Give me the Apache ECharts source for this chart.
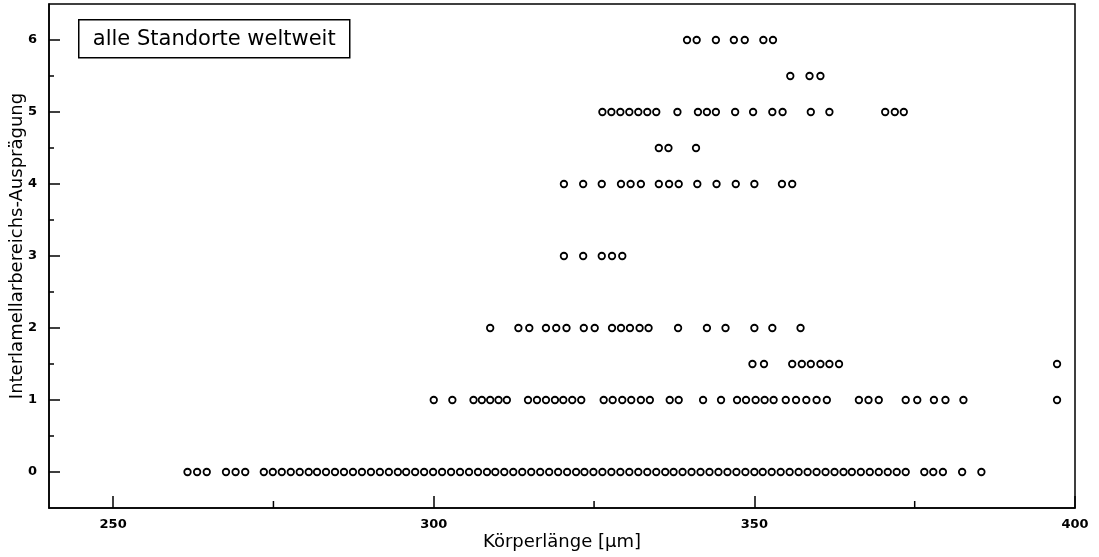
<!DOCTYPE html>
<html>
<head>
<meta charset="utf-8">
<script src="https://cdn.jsdelivr.net/npm/echarts@6/dist/echarts.min.js"></script>
<style>
html,body{margin:0;padding:0;background:#fff;}
#chart{width:1099px;height:557px;}
</style>
</head>
<body>
<div id="chart"></div>
<script>
// ---- data: Körperlänge [µm] per Ausprägungsstufe ----
const row0 = [261.6, 263.1, 264.6, 267.6, 269.1, 270.6,
  273.5, 274.9, 276.3, 277.7, 279.1, 280.5, 281.8, 283.2, 284.6, 286.0,
  287.4, 288.8, 290.2, 291.6, 293.0, 294.4, 295.7, 297.1, 298.5, 299.9,
  301.3, 302.7, 304.1, 305.5, 306.9, 308.3, 309.6, 311.0, 312.4, 313.8,
  315.2, 316.6, 318.0, 319.4, 320.8, 322.2, 323.5, 324.9, 326.3, 327.7,
  329.1, 330.5, 331.9, 333.3, 334.7, 336.1, 337.4, 338.8, 340.2, 341.6,
  343.0, 344.4, 345.8, 347.2, 348.6, 350.0, 351.3, 352.7, 354.1, 355.5,
  356.9, 358.3, 359.7, 361.1, 362.5, 363.9, 365.2, 366.6, 368.0, 369.4,
  370.8, 372.2, 373.6,
  376.5, 377.9, 379.4, 382.4, 385.4];
const row1 = [300.0, 302.9,
  306.2, 307.5, 308.8, 310.1, 311.4,
  314.7, 316.1, 317.5, 318.9, 320.2, 321.6, 323.0,
  326.5, 327.9, 329.4, 330.8, 332.3, 333.7,
  336.8, 338.2, 342.0, 344.8,
  347.3, 348.7, 350.2, 351.6, 353.0,
  354.9, 356.5, 358.1, 359.7, 361.3,
  366.3, 367.8, 369.4, 373.6, 375.4, 378.0, 379.8, 382.6, 397.2];
const row1_5 = [349.7, 351.5, 355.9, 357.4, 358.8, 360.3, 361.7, 363.2, 397.2];
const row2 = [308.8, 313.2, 314.9, 317.5, 319.1, 320.7, 323.4, 325.1,
  327.8, 329.2, 330.6, 332.1, 333.5, 338.1, 342.6, 345.5, 350.0, 352.8, 357.2];
const row3 = [320.3, 323.3, 326.2, 327.8, 329.4];
const row4 = [320.3, 323.3, 326.2, 329.2, 330.7, 332.3, 335.1, 336.7, 338.2,
  341.1, 344.1, 347.1, 350.0, 354.3, 355.9];
const row4_5 = [335.1, 336.6, 340.9];
const row5 = [326.3, 327.7, 329.1, 330.5, 331.9, 333.3, 334.7, 338.0,
  341.2, 342.6, 344.0, 347.0, 349.8, 352.8, 354.4, 358.8, 361.7,
  370.4, 371.9, 373.3];
const row5_5 = [355.6, 358.6, 360.3];
const row6 = [339.5, 341.0, 344.0, 346.8, 348.5, 351.4, 352.9];

const rows = [[0, row0], [1, row1], [1.5, row1_5], [2, row2], [3, row3],
  [4, row4], [4.5, row4_5], [5, row5], [5.5, row5_5], [6, row6]];

const xMajorTicks = [250, 300, 350, 400];
const xMinorTicks = [275, 325, 375];
const yMajorTicks = [0, 1, 2, 3, 4, 5, 6];
const yMinorTicks = [0.5, 1.5, 2.5, 3.5, 4.5, 5.5];

const xName = 'Körperlänge [µm]';
const yName = 'Interlamellarbereichs-Ausprägung';
const boxLabel = 'alle Standorte weltweit';

const points = [];
rows.forEach(([y, xs]) => xs.forEach(x => points.push([x, y])));

const chart = echarts.init(document.getElementById('chart'), null, {renderer: 'canvas'});
const FONT = '"DejaVu Sans", "Liberation Sans", sans-serif';
const line = {color: '#000', width: 1.5};

chart.setOption({
  animation: false,
  backgroundColor: '#fff',
  grid: {left: 49, right: 24, top: 4, bottom: 49, show: true, containLabel: false,
         outerBoundsMode: 'none',
         borderColor: '#000', borderWidth: 1.5, backgroundColor: 'transparent'},
  xAxis: [{
    type: 'value', min: 240, max: 400, position: 'bottom',
    axisLine: {show: true, onZero: false, lineStyle: line},
    axisTick: {show: true, inside: true, length: 12, customValues: xMajorTicks, lineStyle: line},
    axisLabel: {show: true, customValues: xMajorTicks, margin: 10, color: '#000',
                fontFamily: FONT, fontWeight: 'bold', fontSize: 13},
    splitLine: {show: false},
    name: xName, nameLocation: 'middle', nameGap: 25, nameMoveOverlap: false,
    nameTextStyle: {fontFamily: FONT, fontSize: 18, color: '#000'}
  }],
  yAxis: [{
    type: 'value', min: -0.5, max: 6.5, position: 'left',
    axisLine: {show: true, onZero: false, lineStyle: line},
    axisTick: {show: true, inside: true, length: 11, customValues: yMajorTicks, lineStyle: line},
    axisLabel: {show: true, customValues: yMajorTicks, margin: 12, color: '#000',
                fontFamily: FONT, fontWeight: 'bold', fontSize: 13},
    splitLine: {show: false},
    name: yName, nameLocation: 'middle', nameGap: 23, nameRotate: 90, nameMoveOverlap: false,
    nameTextStyle: {fontFamily: FONT, fontSize: 18, color: '#000', padding: [0, 0, 0, 20]}
  }, {
    type: 'value', min: -0.5, max: 6.5, position: 'left', gridIndex: 0, show: true, offset: 0,
    axisLine: {show: false, onZero: false},
    axisTick: {show: true, inside: true, length: 5, customValues: yMinorTicks, lineStyle: line},
    axisLabel: {show: false},
    splitLine: {show: false}
  }],
  series: [{
    type: 'scatter', xAxisIndex: 0, yAxisIndex: 0,
    data: points,
    symbol: 'circle', symbolSize: 6.5,
    itemStyle: {color: '#fff', borderColor: '#000', borderWidth: 1.8, opacity: 1}
  }],
  graphic: [{
    id: 'box', type: 'group', left: 78, top: 19,
    children: [{
      type: 'rect', shape: {x: 0, y: 0, width: 271, height: 38},
      style: {fill: '#fff', stroke: '#000', lineWidth: 1.5}
    }, {
      type: 'text', x: 135.5, y: 20,
      style: {text: boxLabel, fontFamily: FONT, fontSize: 21, fill: '#000',
              align: 'center', verticalAlign: 'middle'}
    }]
  }]
});

// minor x ticks (275, 325, 375), positioned through the axis scale
const yBase = chart.convertToPixel({yAxisIndex: 0}, -0.5);
chart.setOption({
  graphic: xMinorTicks.map((v, i) => {
    const px = chart.convertToPixel({xAxisIndex: 0}, v);
    return {id: 'xminor' + i, type: 'line', z: 10,
            shape: {x1: px, y1: yBase, x2: px, y2: yBase - 7},
            style: {stroke: '#000', lineWidth: 1.5}};
  })
});
</script>
</body>
</html>
